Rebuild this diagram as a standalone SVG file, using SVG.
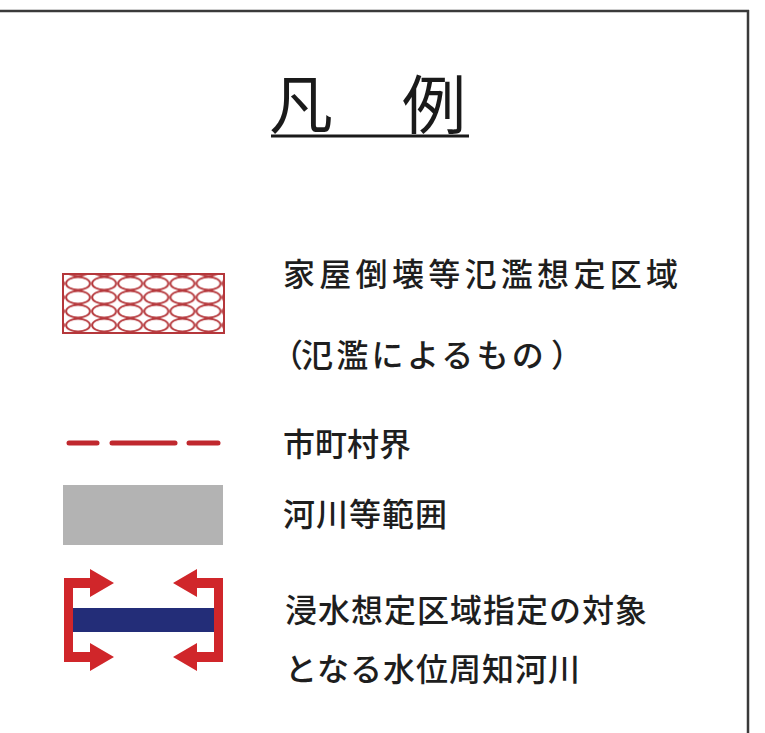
<svg xmlns="http://www.w3.org/2000/svg" width="765" height="733" viewBox="0 0 765 733">
<style>
.t{font-family:"Noto Sans CJK JP","Noto Sans CJK SC",sans-serif;fill:#1e1e1e;font-size:32px;font-weight:500}
.title{font-family:"Noto Sans CJK JP","Noto Sans CJK SC",sans-serif;fill:#1a1a1a;font-size:64px}
.red{fill:#d0262a}
</style>
<defs>
<pattern id="hatch" patternUnits="userSpaceOnUse" x="65" y="276.5" width="26.1" height="13.9">
<ellipse cx="13.05" cy="6.95" rx="12" ry="6.3" fill="none" stroke="#b5373b" stroke-width="1.9"/>
</pattern>
</defs>
<rect width="765" height="733" fill="#fff"/>
<g id="frame" fill="none" stroke="#3a3a3a" stroke-width="2.5">
<line x1="0" y1="11" x2="749" y2="11"/>
<line x1="748" y1="10" x2="748" y2="733"/>
</g>
<g id="title">
<text class="title" y="128"><tspan x="269">凡</tspan><tspan x="402">例</tspan></text>
<line x1="271" y1="136" x2="469" y2="136" stroke="#1a1a1a" stroke-width="3"/>
</g>
<g id="legend-flood">
<rect x="63" y="274" width="161" height="59" fill="url(#hatch)" stroke="#b5373b" stroke-width="2"/>
<text class="t" x="283" y="286" letter-spacing="4.3">家屋倒壊等氾濫想定区域</text>
<text class="t" y="367"><tspan x="271">（</tspan><tspan x="301" letter-spacing="3.3">氾濫によるもの</tspan><tspan x="551">）</tspan></text>
</g>
<g id="legend-boundary">
<g stroke="#c0282e" stroke-width="5" stroke-linecap="round">
<line x1="69" y1="443" x2="97" y2="443"/>
<line x1="112" y1="443" x2="175" y2="443"/>
<line x1="189" y1="443" x2="218" y2="443"/>
</g>
<text class="t" x="283" y="456" letter-spacing="0">市町村界</text>
</g>
<g id="legend-river">
<rect x="63" y="485" width="160" height="60" fill="#b3b3b3"/>
<text class="t" x="283" y="526" letter-spacing="1">河川等範囲</text>
</g>
<g id="legend-target">
<rect x="73" y="608" width="141" height="24" fill="#232d78"/>
<polygon class="red" points="64,578 90,578 90,569 114,583 90,597 90,588 73,588 73,652 90,652 90,643 114,657 90,671 90,662 64,662"/>
<polygon class="red" points="223,578 197,578 197,569 173,583 197,597 197,588 214,588 214,652 197,652 197,643 173,657 197,671 197,662 223,662"/>
<text class="t" x="285" y="622" letter-spacing="1">浸水想定区域指定の対象</text>
<text class="t" x="285" y="681" letter-spacing="1">となる水位周知河川</text>
</g>
</svg>
